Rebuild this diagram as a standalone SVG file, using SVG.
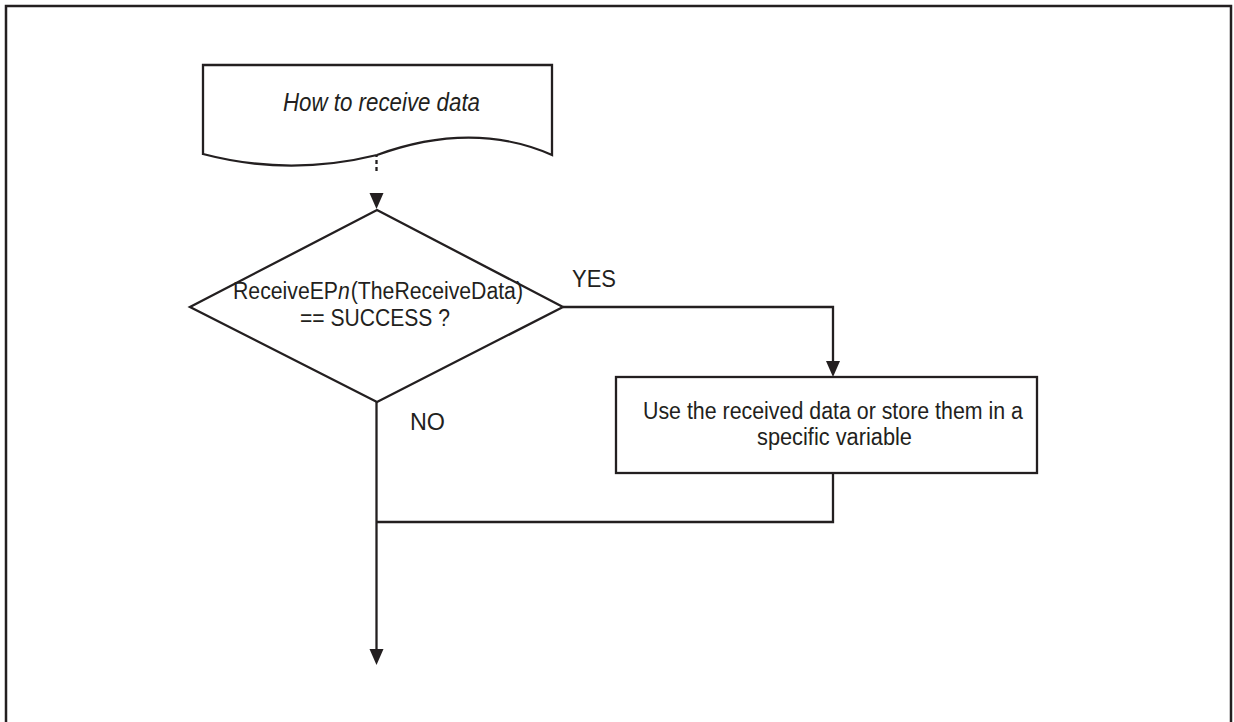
<svg xmlns="http://www.w3.org/2000/svg" width="1234" height="722" viewBox="0 0 1234 722">
<style>
.shape{fill:#fff;stroke:#231f20;stroke-width:2.3}
.line{fill:none;stroke:#231f20;stroke-width:2.3}
.dash{fill:none;stroke:#231f20;stroke-width:2.3;stroke-dasharray:4 3}
.head{fill:#231f20;stroke:none}
text{font-family:"Liberation Sans",Arial,sans-serif;fill:#231f20}
.t23{font-size:23px}
.t24{font-size:24px}
.t25{font-size:25px;font-style:italic}
</style>
<rect x="6" y="6" width="1225" height="740" fill="none" stroke="#231f20" stroke-width="2.5"/>
<g id="connectors">
<path class="dash" d="M376.5,153 V172"/>
<polygon class="head" points="369.5,193 383.5,193 376.5,209"/>
<path class="line" d="M563,307 H833 V362"/>
<polygon class="head" points="826,361 840,361 833,377"/>
<path class="line" d="M833,473 V522 H376.5"/>
<path class="line" d="M376.5,402 V650"/>
<polygon class="head" points="369.5,649 383.5,649 376.5,665"/>
<text class="t24" x="572" y="287" textLength="44" lengthAdjust="spacingAndGlyphs">YES</text>
<text class="t24" x="410" y="430" textLength="35" lengthAdjust="spacingAndGlyphs">NO</text>
</g>
<g id="start">
<path class="shape" d="M203,65 H552 V155 C500,132 440,132 377,155 C320,169 260,169 203,154 Z"/>
<text class="t25" x="283" y="111" textLength="197" lengthAdjust="spacingAndGlyphs">How to receive data</text>
</g>
<g id="decision">
<polygon class="shape" points="377,210 563,307 377,402 190,307"/>
<text class="t23" x="233" y="299" textLength="290" lengthAdjust="spacingAndGlyphs">ReceiveEP<tspan font-style="italic">n</tspan><tspan dx="1">(TheReceiveData)</tspan></text>
<text class="t23" x="300" y="326" textLength="150" lengthAdjust="spacingAndGlyphs">== SUCCESS ?</text>
</g>
<g id="process">
<rect class="shape" x="616" y="377" width="421" height="96"/>
<text class="t23" x="643" y="419" textLength="380" lengthAdjust="spacingAndGlyphs">Use the received data or store them in a</text>
<text class="t23" x="757" y="445" textLength="155" lengthAdjust="spacingAndGlyphs">specific variable</text>
</g>
</svg>
